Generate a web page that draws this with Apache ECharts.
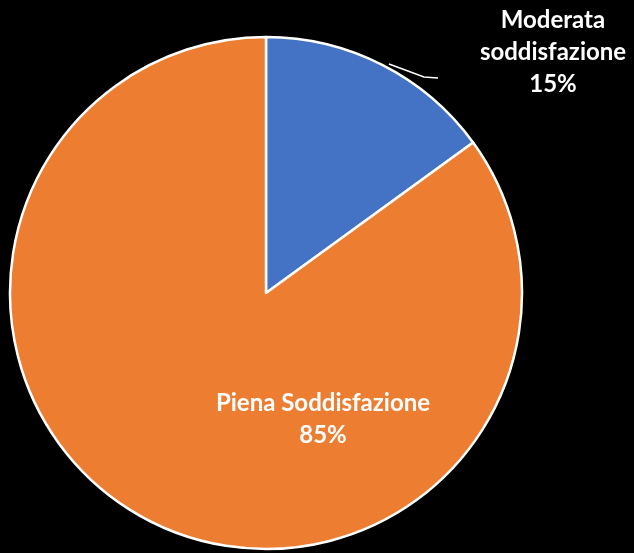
<!DOCTYPE html>
<html>
<head>
<meta charset="utf-8">
<script src="https://cdn.jsdelivr.net/npm/echarts@6/dist/echarts.min.js"></script>
<style>
html,body{margin:0;padding:0;background:#000;}
#main{width:634px;height:553px;}
</style>
</head>
<body>
<div id="main"></div>
<script>
// dati del grafico
var categories = ['Moderata\nsoddisfazione', 'Piena Soddisfazione'];
var percentages = [15, 85];
var colors = ['#4472c4', '#ed7d31'];

var myChart = echarts.init(document.getElementById('main'));

var data = [];
for (var i = 0; i < categories.length; i++) {
	var item = {name: categories[i], value: percentages[i], itemStyle: {color: colors[i]}};
	//la seconda etichetta sta dentro la fetta
	if (i == 1) {
		item.label = {position: 'inside'};
		item.labelLine = {show: false};
	}
	data.push(item);
}

var option = {
	backgroundColor: '#000000',
	animation: false,
	series: [{
		type: 'pie',
		center: [266, 293],
		radius: [0, 256],
		startAngle: 90,
		clockwise: true,
		data: data,
		itemStyle: {borderColor: '#ffffff', borderWidth: 2.5},
		label: {
			show: true,
			color: '#ffffff',
			fontFamily: 'Lato',
			fontWeight: 'bold',
			fontSize: 24,
			lineHeight: 32,
			align: 'center',
			overflow: 'none',
			formatter: function (p) { return p.name + '\n' + p.value + '%'; }
		},
		labelLine: {show: true, lineStyle: {color: '#ffffff', width: 1.5}},
		//posizione delle etichette come nell'originale
		labelLayout: function (params) {
			if (params.dataIndex === 0) {
				return {x: 553, y: 52, align: 'center', verticalAlign: 'middle',
					labelLinePoints: [[389, 64], [424, 77], [438, 78]]};
			}
			return {x: 323, y: 419, align: 'center', verticalAlign: 'middle'};
		}
	}]
};
myChart.setOption(option);
</script>
</body>
</html>
